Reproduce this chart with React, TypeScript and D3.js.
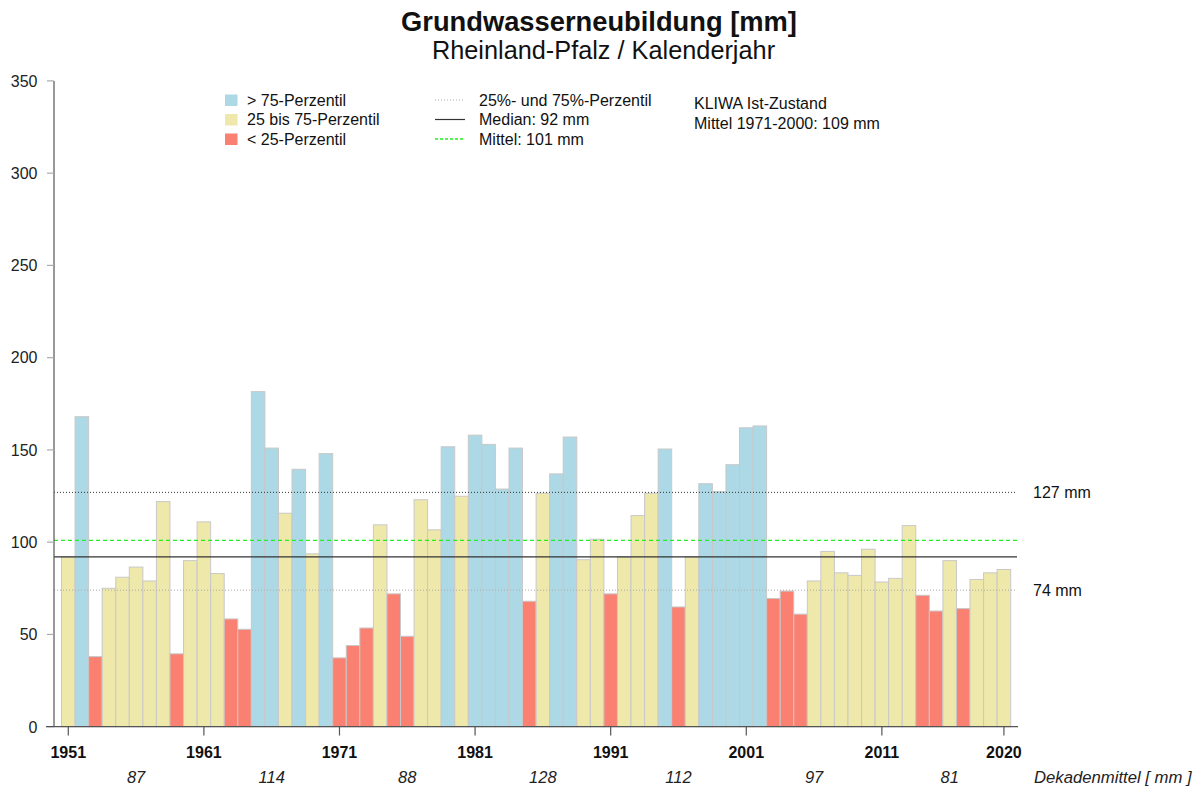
import React from "react";
import * as d3 from "d3";

const years: number[] = d3.range(1951, 2021);
const values: number[] = [
  92, 168, 38, 75, 81, 86.5, 79, 122, 39.5, 90,
  111, 83, 58.4, 52.8, 181.6, 151, 115.7, 139.5, 93.7, 148,
  37.3, 44, 53.5, 109.4, 72, 49, 123, 106.7, 151.7, 124.9,
  158, 153, 128.8, 151, 68, 126.5, 137, 157, 90.5, 101.6,
  72, 92, 114.4, 126.5, 150.5, 64.9, 92, 131.7, 127.4, 142,
  162, 163, 69.5, 73.5, 61, 79, 95, 83.4, 82, 96.2,
  78.4, 80.4, 109, 71.2, 62.7, 90, 64, 79.8, 83.4, 85.2,
];
const p25 = 74;
const p75 = 127;
const median = 92;
const mean = 101;
const yTicks: number[] = [0, 50, 100, 150, 200, 250, 300, 350];
const xTickYears: number[] = [1951, 1961, 1971, 1981, 1991, 2001, 2011, 2020];
const decadeCenters: number[] = [1956, 1966, 1976, 1986, 1996, 2006, 2016];
const decadeMeans: string[] = ["87", "114", "88", "128", "112", "97", "81"];

const colHigh = "#ADD8E6";
const colMid = "#EEE8AA";
const colLow = "#FA8072";

const FONT = "'Liberation Sans', Arial, sans-serif";

export default function App() {
  const W = 1198;
  const H = 787;
  const x = d3
    .scaleBand<number>()
    .domain(years)
    .range([61.5, 61.5 + 70 * 13.56])
    .padding(0);
  const y = d3.scaleLinear().domain([0, 350]).range([726.7, 80.9]);
  const axL = 54;
  const axR = 1017;
  const colorOf = (v: number) => (v > p75 ? colHigh : v < p25 ? colLow : colMid);
  const cx = (yr: number) => (x(yr) as number) + x.bandwidth() / 2;

  return (
    <div style={{ position: "absolute", left: 0, top: 0 }}>
      <svg width={W} height={H} style={{ display: "block", fontFamily: FONT }}>
        <rect width={W} height={H} fill="#fff" />
        <text x={599} y={31} textAnchor="middle" fontSize={27.3} fontWeight="bold" fill="#111">
          Grundwasserneubildung [mm]
        </text>
        <text x={603.5} y={59} textAnchor="middle" fontSize={25.3} fill="#111">
          Rheinland-Pfalz / Kalenderjahr
        </text>

        {/* bars */}
        {years.map((yr, i) => (
          <rect
            key={yr}
            x={x(yr) as number}
            y={y(values[i])}
            width={x.bandwidth()}
            height={y(0) - y(values[i])}
            fill={colorOf(values[i])}
            stroke="#c8c8c8"
            strokeWidth={1}
          />
        ))}

        {/* reference lines */}
        <line x1={axL} x2={axR} y1={y(p75)} y2={y(p75)} stroke="#333" strokeWidth={1} strokeDasharray="1,2" />
        <line x1={axL} x2={axR} y1={y(mean)} y2={y(mean)} stroke="#22ee22" strokeWidth={1.3} strokeDasharray="4,3" />
        <line x1={axL} x2={axR} y1={y(median)} y2={y(median)} stroke="#333" strokeWidth={1.2} />
        <line x1={axL} x2={axR} y1={y(p25)} y2={y(p25)} stroke="#aaa" strokeWidth={1} strokeDasharray="1,2" />
        <text x={1033} y={y(p75) + 6} fontSize={16} fill="#111">{`${p75} mm`}</text>
        <text x={1033} y={y(p25) + 6} fontSize={16} fill="#111">{`${p25} mm`}</text>

        {/* y axis */}
        <line x1={axL} x2={axL} y1={y(350)} y2={y(0)} stroke="#555" strokeWidth={1.2} />
        {yTicks.map((t) => (
          <g key={t}>
            <line x1={47} x2={axL} y1={y(t)} y2={y(t)} stroke="#aaa" strokeWidth={1.2} />
            <text x={37.5} y={y(t) + 5.8} textAnchor="end" fontSize={16} fill="#222">
              {t}
            </text>
          </g>
        ))}

        {/* x axis */}
        <line x1={46} x2={1018} y1={y(0)} y2={y(0)} stroke="#555" strokeWidth={1.2} />
        {xTickYears.map((yr) => (
          <g key={yr}>
            <line x1={cx(yr)} x2={cx(yr)} y1={y(0)} y2={735.5} stroke="#555" strokeWidth={1.2} />
            <text x={cx(yr)} y={757.5} textAnchor="middle" fontSize={16} fontWeight="bold" fill="#111">
              {yr}
            </text>
          </g>
        ))}
        {decadeCenters.map((yr, i) => (
          <text key={yr} x={cx(yr)} y={782.5} textAnchor="middle" fontSize={16.5} fontStyle="italic" fill="#222">
            {decadeMeans[i]}
          </text>
        ))}
        <text x={1034} y={782.5} fontSize={16.7} fontStyle="italic" fill="#222">
          Dekadenmittel [ mm ]
        </text>

        {/* legend */}
        {[
          { c: colHigh, t: "> 75-Perzentil" },
          { c: colMid, t: "25 bis 75-Perzentil" },
          { c: colLow, t: "< 25-Perzentil" },
        ].map((d, i) => (
          <g key={d.t}>
            <rect x={225} y={94.5 + i * 19.5} width={12.5} height={11.5} fill={d.c} />
            <text x={247} y={105.7 + i * 19.5} fontSize={16} fill="#111">
              {d.t}
            </text>
          </g>
        ))}
        <line x1={435} x2={465} y1={100} y2={100} stroke="#aaa" strokeWidth={1} strokeDasharray="1,2" />
        <text x={479} y={105.7} fontSize={16} fill="#111">25%- und 75%-Perzentil</text>
        <line x1={435} x2={465} y1={119.5} y2={119.5} stroke="#333" strokeWidth={1.2} />
        <text x={479} y={125.2} fontSize={16} fill="#111">{`Median: ${median} mm`}</text>
        <line x1={435} x2={465} y1={139} y2={139} stroke="#22ee22" strokeWidth={1.3} strokeDasharray="3,2" />
        <text x={479} y={144.7} fontSize={16} fill="#111">{`Mittel: ${mean} mm`}</text>
        <text x={694} y={108.7} fontSize={16} fill="#111">KLIWA Ist-Zustand</text>
        <text x={694} y={129} fontSize={16} fill="#111">Mittel 1971-2000: 109 mm</text>
      </svg>
    </div>
  );
}
